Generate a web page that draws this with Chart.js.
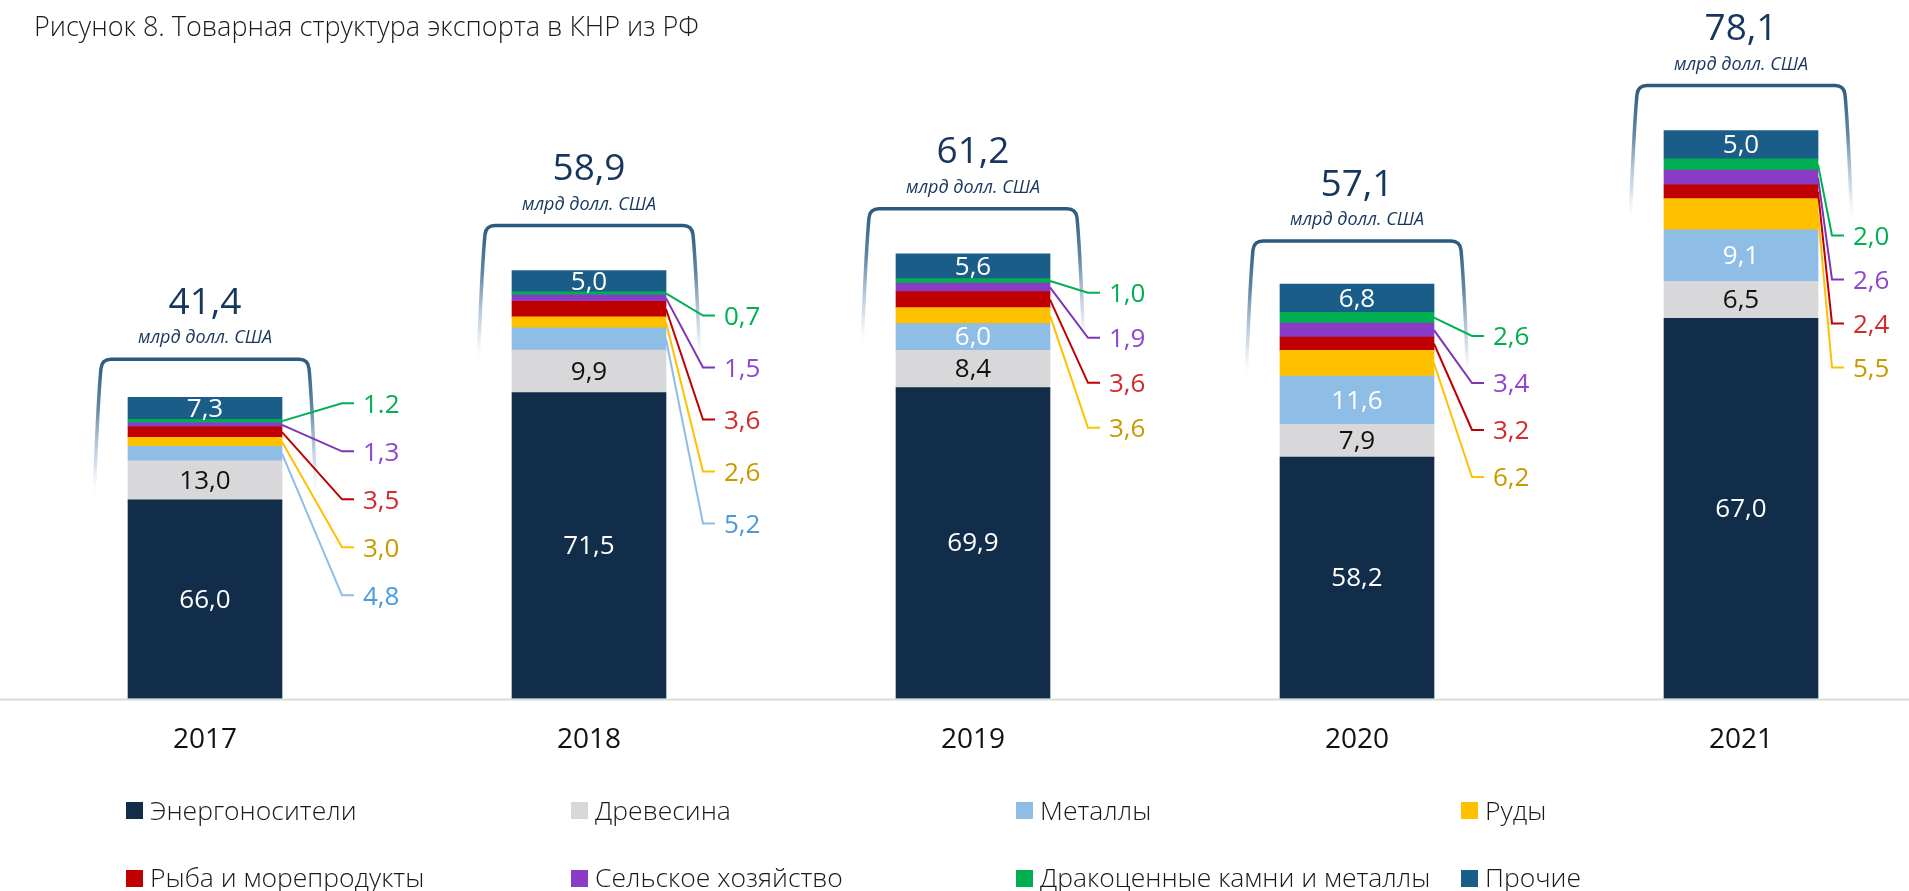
<!DOCTYPE html>
<html lang="ru">
<head>
<meta charset="utf-8">
<title>Товарная структура экспорта в КНР из РФ</title>
<script src="https://cdn.jsdelivr.net/npm/chart.js@4.4.1/dist/chart.umd.min.js"></script>
<style>
  html, body { margin: 0; padding: 0; background: #ffffff; overflow: hidden; }
  #wrap { position: relative; width: 1909px; height: 891px; }
  #chart { position: absolute; left: 0; top: 0; }
  #title { position: absolute; left: 34px; top: 13px; font: 300 27px/26px "Open Sans", sans-serif; color: #1a1a1a; white-space: nowrap; }
  .lg-box { position: absolute; width: 17px; height: 17px; }
  .lg-text { position: absolute; font: 300 26.5px/26px "Open Sans", sans-serif; color: #1a1a1a; white-space: nowrap; }
</style>
</head>
<body>
<div id="wrap">
  <canvas id="chart" width="1909" height="891"></canvas>
  <div id="title">Рисунок 8. Товарная структура экспорта в КНР из РФ</div>
  <div id="legend"></div>
</div>
<script>
// ---------------- DATA ----------------
const years = ['2017', '2018', '2019', '2020', '2021'];
const totals = [41.4, 58.9, 61.2, 57.1, 78.1];          // млрд долл. США
const totalUnit = 'млрд долл. США';
const categories = ['Энергоносители', 'Древесина', 'Металлы', 'Руды', 'Рыба и морепродукты',
                    'Сельское хозяйство', 'Дракоценные камни и металлы', 'Прочие'];
// shares, % of total
const energy   = [66.0, 71.5, 69.9, 58.2, 67.0];
const wood     = [13.0,  9.9,  8.4,  7.9,  6.5];
const metals   = [ 4.8,  5.2,  6.0, 11.6,  9.1];
const ores     = [ 3.0,  2.6,  3.6,  6.2,  5.5];
const fish     = [ 3.5,  3.6,  3.6,  3.2,  2.4];
const agri     = [ 1.3,  1.5,  1.9,  3.4,  2.6];
const precious = [ 1.2,  0.7,  1.0,  2.6,  2.0];
const other    = [ 7.3,  5.0,  5.6,  6.8,  5.0];
const shareSeries = [energy, wood, metals, ores, fish, agri, precious, other];
// labels exactly as printed in the source (one uses a period)
const printedOverrides = { '6-0': '1.2' };

// ---------------- STYLE ----------------
const FONT = '"Open Sans", sans-serif';
const fillColors = ['#112d4a', '#d8d8da', '#8ebde6', '#ffc000', '#c00000', '#8a3cc4', '#00b050', '#1b5d89'];
const lineColors = [null, null, '#8ebde6', '#ffc000', '#c00000', '#7d35b8', '#00b050', null];
const calloutTextColors = [null, null, '#4a9ae0', '#c99a00', '#d42a2a', '#9146d0', '#00b050', null];
// 'in' = label inside segment, 'out' = callout, 'auto' = inside if segment tall enough
const labelMode = ['in', 'in', 'auto', 'out', 'out', 'out', 'out', 'in'];
const insideTextColors = ['#ffffff', '#111111', '#ffffff', null, null, null, null, '#ffffff'];
// layout per year (pixel offsets relative to bar)
const headerShift = [7, 0, 0, 2, 0];
const calloutFirstOffset = [6, 45, 39, 52, 105];
const calloutGap = [48, 52, 45, 47, 44];
const calloutElbow = [60, 37, 38, 38, 14];

function fmt(v) { return v.toFixed(1).replace('.', ','); }

const datasets = shareSeries.map((s, i) => ({
  label: categories[i],
  shares: s,
  data: s.map((p, j) => p * totals[j] / 100),
  backgroundColor: fillColors[i],
  borderWidth: 0,
  barThickness: 154,
  clip: false
}));

const annotPlugin = {
  id: 'annot',
  afterDraw(chart) {
    const ctx = chart.ctx;
    const yScale = chart.scales.y;
    const y0 = yScale.getPixelForValue(0);
    ctx.save();
    // baseline across the whole width
    ctx.strokeStyle = '#d9d9d9';
    ctx.lineWidth = 2;
    ctx.beginPath();
    ctx.moveTo(0, y0 + 1);
    ctx.lineTo(chart.width, y0 + 1);
    ctx.stroke();

    const nDs = chart.data.datasets.length;
    years.forEach((yr, j) => {
      const bars = chart.data.datasets.map((d, i) => chart.getDatasetMeta(i).data[j].getProps(['x', 'y', 'base', 'width'], true));
      const top = bars[nDs - 1].y;
      const cx = bars[0].x;
      const left = cx - bars[0].width / 2;
      const right = cx + bars[0].width / 2;
      const hs = headerShift[j];

      // total
      ctx.fillStyle = '#17365d';
      ctx.textAlign = 'center';
      ctx.textBaseline = 'middle';
      ctx.font = '400 37px ' + FONT;
      ctx.fillText(fmt(totals[j]), cx, top - 101 + hs);
      ctx.font = 'italic 400 18px ' + FONT;
      ctx.fillText(totalUnit, cx, top - 66 + hs);

      // bracket
      const yb = top - 45 + hs;
      const xl = left - 26, xr = right + 26;
      const legLen = 140, r = 9;
      const grad = ctx.createLinearGradient(0, yb, 0, yb + legLen);
      grad.addColorStop(0, '#2c5a7e');
      grad.addColorStop(0.35, 'rgba(70,115,150,0.85)');
      grad.addColorStop(0.75, 'rgba(150,180,205,0.4)');
      grad.addColorStop(1, 'rgba(255,255,255,0)');
      ctx.strokeStyle = grad;
      ctx.lineWidth = 3.5;
      ctx.lineCap = 'butt';
      ctx.beginPath();
      ctx.moveTo(xl - 8, yb + legLen);
      ctx.quadraticCurveTo(xl - 4, yb + 40, xl - 1, yb + r);
      ctx.quadraticCurveTo(xl, yb, xl + r, yb);
      ctx.lineTo(xr - r, yb);
      ctx.quadraticCurveTo(xr, yb, xr + 1, yb + r);
      ctx.quadraticCurveTo(xr + 4, yb + 40, xr + 8, yb + legLen);
      ctx.stroke();

      // inside labels and callouts
      ctx.font = '400 26px ' + FONT;
      const callouts = [];
      chart.data.datasets.forEach((d, i) => {
        const b = bars[i];
        const h = b.base - b.y;
        let mode = labelMode[i];
        if (mode === 'auto') mode = h >= 24 ? 'in' : 'out';
        const txt = printedOverrides[i + '-' + j] || fmt(d.shares[j]);
        if (mode === 'in') {
          ctx.fillStyle = insideTextColors[i];
          ctx.textAlign = 'center';
          ctx.textBaseline = 'middle';
          ctx.fillText(txt, cx, (b.y + b.base) / 2 + 1);
        } else {
          callouts.push({ i, txt, ys: (b.y + b.base) / 2 });
        }
      });
      // callouts ordered from the top of the bar downward
      callouts.sort((a, b) => a.ys - b.ys);
      callouts.forEach((c, k) => {
        const ly = top + calloutFirstOffset[j] + k * calloutGap[j];
        const ex = right + calloutElbow[j];
        ctx.strokeStyle = lineColors[c.i];
        ctx.lineWidth = 2;
        ctx.beginPath();
        ctx.moveTo(right, c.ys);
        ctx.lineTo(ex, ly);
        ctx.lineTo(ex + 12, ly);
        ctx.stroke();
        ctx.fillStyle = calloutTextColors[c.i];
        ctx.textAlign = 'left';
        ctx.textBaseline = 'middle';
        ctx.fillText(c.txt, ex + 21, ly + 2);
      });
    });
    ctx.restore();
  }
};

function build() {
  new Chart(document.getElementById('chart'), {
    type: 'bar',
    data: { labels: years, datasets },
    options: {
      responsive: false,
      animation: false,
      events: [],
      layout: { padding: { left: 205, right: 168, top: 1, bottom: 109 } },
      plugins: { legend: { display: false }, tooltip: { enabled: false }, title: { display: false } },
      scales: {
        x: {
          stacked: true,
          offset: false,
          grid: { display: false, drawTicks: false },
          border: { display: false },
          ticks: { color: '#111111', padding: 25, font: { family: FONT, size: 28, weight: '400' } }
        },
        y: { stacked: true, display: false, min: 0, max: 96 }
      }
    },
    plugins: [annotPlugin]
  });

  // legend (4 columns x 2 rows)
  const lg = document.getElementById('legend');
  categories.forEach((name, i) => {
    const col = i % 4, row = Math.floor(i / 4);
    const x = 126 + col * 445;
    const boxTop = row === 0 ? 802 : 870;
    const txtTop = row === 0 ? 797 : 864;
    const b = document.createElement('div');
    b.className = 'lg-box';
    b.style.left = x + 'px';
    b.style.top = boxTop + 'px';
    b.style.background = fillColors[i];
    const t = document.createElement('div');
    t.className = 'lg-text';
    t.style.left = (x + 24) + 'px';
    t.style.top = txtTop + 'px';
    t.textContent = name;
    lg.appendChild(b);
    lg.appendChild(t);
  });
}

if (document.fonts && document.fonts.load) {
  Promise.all([
    document.fonts.load('400 26px "Open Sans"'),
    document.fonts.load('italic 400 18px "Open Sans"'),
    document.fonts.load('300 25px "Open Sans"')
  ]).then(build, build);
} else {
  build();
}
</script>
</body>
</html>
